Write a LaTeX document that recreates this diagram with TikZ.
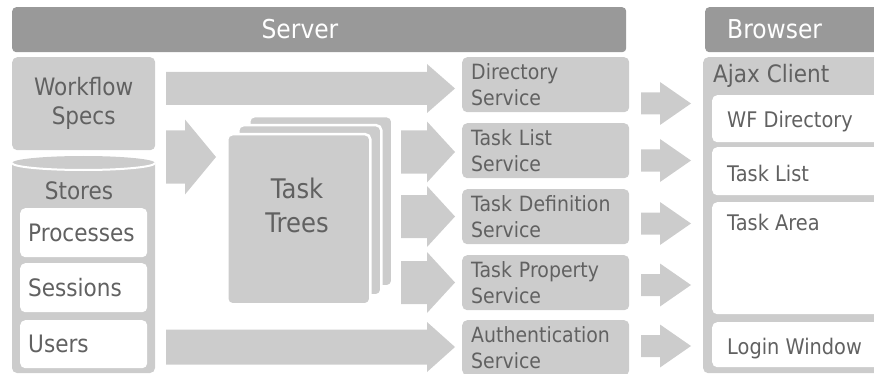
\documentclass[tikz,border=0pt]{standalone}
\usepackage{fontspec}
\setmainfont{DejaVu Sans}[FakeStretch=0.9]
\usetikzlibrary{calc}

\definecolor{bargray}{HTML}{999999}
\definecolor{boxgray}{HTML}{CCCCCC}
\definecolor{txtgray}{HTML}{616161}

% block arrow from #1 to #2 (same height): body half, head half, head length
\newcommand{\fatarrow}[5]{%
  \fill[boxgray] ($(#1)+(0,#3)$) -- ($(#2)+(-#5,#3)$) -- ($(#2)+(-#5,#4)$) -- (#2)
    -- ($(#2)+(-#5,-#4)$) -- ($(#2)+(-#5,-#3)$) -- ($(#1)+(0,-#3)$) -- cycle;}

\tikzset{
  bar/.style={fill=bargray, rounded corners=4pt, anchor=north west, inner sep=0pt},
  bartext/.style={text=white, inner sep=0pt, font=\fontsize{26}{30}\selectfont},
  panel/.style={fill=boxgray, rounded corners=5pt, anchor=north west, inner sep=0pt, text=txtgray},
  slot/.style={fill=white, rounded corners=5pt, anchor=north west, inner sep=0pt, text=txtgray},
  service/.style={panel, minimum height=55pt, text width=149pt, inner xsep=9pt, align=left,
    font=\fontsize{21}{26}\selectfont},
  storeslot/.style={slot, minimum width=127pt, text width=111pt, inner xsep=8pt, align=left,
    font=\fontsize{24}{29}\selectfont},
  clientslot/.style={slot, minimum width=200pt},
  card/.style={panel, draw=white, line width=2.5pt, minimum width=143pt, minimum height=170pt},
  lbl/.style={text=txtgray, inner sep=0pt},
}

\begin{document}
\begin{tikzpicture}[x=1pt,y=-1pt]
\useasboundingbox (0,0) rectangle (874,374);
\clip (0,0) rectangle (874,374);

% title bars
\node[bar, minimum width=614pt, minimum height=45pt] (server) at (12,7) {};
\node[bartext] (servertxt) at (300,29.5) {Server};
\node[bar, minimum width=200pt, minimum height=45pt] (browser) at (705,7) {};
\node[bartext, anchor=west] (browsertxt) at (727,29.5) {Browser};

% server side inputs
\node[panel, minimum width=143pt, minimum height=93pt, align=center,
  font=\fontsize{24}{29}\selectfont] (specs) at (12,57) {Workflow\\Specs};

\fill[boxgray] (12,163) [rounded corners=5pt] -- (12,373) -- (155,373) -- (155,300)
  [sharp corners] -- (155,163) -- cycle;
\fill[boxgray] (83.5,163) ellipse [x radius=71.5pt, y radius=7pt];
\draw[white, line width=2pt] (12,163) arc[start angle=180, end angle=360, x radius=71.5pt, y radius=7pt];
\node[lbl, font=\fontsize{24}{29}\selectfont] (stores) at (79,191) {Stores};
\node[storeslot, minimum height=49pt] (procs) at (20,208) {Processes};
\node[storeslot, minimum height=49pt] (sessions) at (20,263) {Sessions};
\node[storeslot, minimum height=48pt] (users) at (20,320) {Users};

% task trees
\node[card] (tree3) at (248,115) {};
\node[card] (tree2) at (237,124) {};
\node[card] (tree1) at (226,133) {};
\node[lbl, align=center, font=\fontsize{27}{34}\selectfont] (treetxt) at (297,205) {Task\\Trees};

% services
\node[service] (dirsvc) at (462,57) {Directory\\Service};
\node[service] (listsvc) at (462,123) {Task List\\Service};
\node[service] (defsvc) at (462,189) {Task Definition\\Service};
\node[service] (propsvc) at (462,255) {Task Property\\Service};
\node[service] (authsvc) at (462,320) {Authentication\\Service};

% browser side
\node[panel, minimum width=200pt, minimum height=316pt] (ajax) at (703,57) {};
\node[lbl, anchor=base west, font=\fontsize{24}{29}\selectfont] (ajaxtxt) at (713,83) {Ajax Client};
\node[clientslot, minimum height=47pt] (wfdir) at (712,95) {};
\node[clientslot, minimum height=48pt] (tasklist) at (712,147) {};
\node[clientslot, minimum height=112pt] (taskarea) at (712,202) {};
\node[clientslot, minimum height=45pt] (login) at (712,322) {};
\node[lbl, anchor=base west, font=\fontsize{21.5}{26}\selectfont] (wfdirtxt) at (727,128) {WF Directory};
\node[lbl, anchor=base west, font=\fontsize{21.5}{26}\selectfont] (tasklisttxt) at (727,182) {Task List};
\node[lbl, anchor=base west, font=\fontsize{21.5}{26}\selectfont] (taskareatxt) at (727,230) {Task Area};
\node[lbl, anchor=base west, font=\fontsize{21.5}{26}\selectfont] (logintxt) at (727,354) {Login Window};

% arrows into the services
\coordinate (specsout) at (166,88.5);
\coordinate (dirin) at (455,88.5);
\coordinate (specstree) at (166,157);
\coordinate (treein) at (216,157);
\coordinate (usersout) at (166,347);
\coordinate (authin) at (455,347);
\fatarrow{specsout}{dirin}{16.5}{24.5}{28}
\fatarrow{specstree}{treein}{26.5}{37.5}{31}
\fatarrow{usersout}{authin}{17.5}{25}{28}
\foreach \y [count=\i] in {152,216.5,282.5} {
  \coordinate (treeout\i) at (401,\y);
  \coordinate (svcin\i) at (455,\y);
  \fatarrow{treeout\i}{svcin\i}{21.5}{30.5}{28}
}

% arrows to the client
\foreach \y [count=\i] in {103.5,160.5,223.5,285,346} {
  \coordinate (svcout\i) at (641,\y);
  \coordinate (clientin\i) at (691,\y);
  \fatarrow{svcout\i}{clientin\i}{11}{21.5}{31}
}
\end{tikzpicture}
\end{document}
